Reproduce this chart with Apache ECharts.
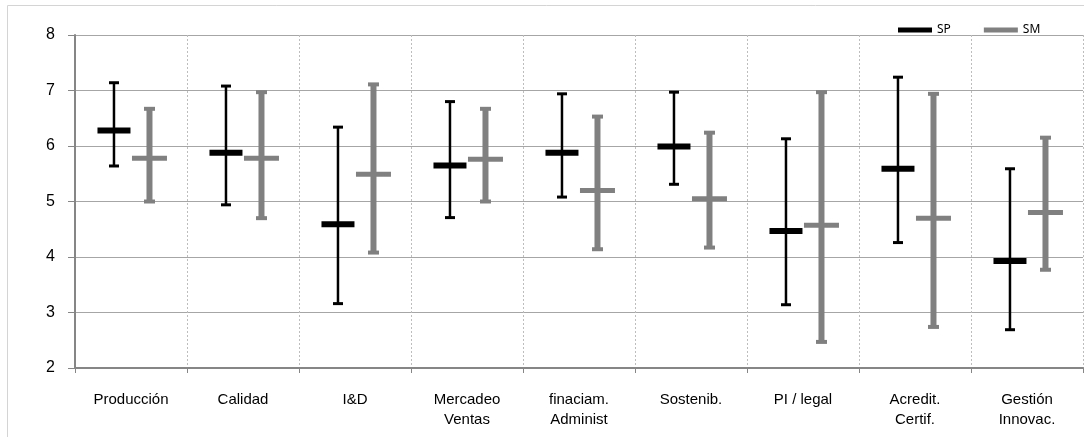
<!DOCTYPE html>
<html>
<head>
<meta charset="utf-8">
<script src="https://cdn.jsdelivr.net/npm/echarts@6/dist/echarts.min.js"></script>
<style>
  html, body { margin: 0; padding: 0; background: #fff; }
  #chart { width: 1084px; height: 437px; }
</style>
</head>
<body>
<div id="chart"></div>
<script>
const categories = ['Producción', 'Calidad', 'I&D', 'Mercadeo\nVentas', 'finaciam.\nAdminist', 'Sostenib.', 'PI / legal', 'Acredit.\nCertif.', 'Gestión\nInnovac.']

// SP: media y extremos
const spMean = [6.28, 5.88, 4.59, 5.65, 5.88, 5.99, 4.47, 5.59, 3.93]
const spHigh = [7.14, 7.08, 6.34, 6.80, 6.94, 6.97, 6.13, 7.24, 5.59]
const spLow = [5.64, 4.94, 3.16, 4.71, 5.08, 5.31, 3.14, 4.26, 2.69]

// SM: media y extremos
const smMean = [5.78, 5.78, 5.49, 5.76, 5.20, 5.05, 4.57, 4.70, 4.80]
const smHigh = [6.67, 6.97, 7.11, 6.67, 6.53, 6.24, 6.97, 6.94, 6.15]
const smLow = [5.00, 4.70, 4.08, 5.00, 4.14, 4.17, 2.47, 2.74, 3.77]

const yTicks = [2, 3, 4, 5, 6, 7, 8]

const toRows = (low, mean, high) => categories.map((c, i) => [i, low[i], mean[i], high[i]])

// dibuja barra de error con marca de la media
const makeRender = (cfg) => (params, api) => {
  const idx = api.value(0)
  const catW = api.size([1, 0])[0]
  const x = api.coord([idx, 0])[0] + catW * cfg.offset
  const yLow = api.coord([idx, api.value(1)])[1]
  const yMean = api.coord([idx, api.value(2)])[1]
  const yHigh = api.coord([idx, api.value(3)])[1]
  const style = { fill: cfg.color }
  return {
    type: 'group',
    children: [
      {
        type: 'rect',
        shape: { x: x - cfg.lineW / 2, y: yHigh, width: cfg.lineW, height: yLow - yHigh },
        style,
      },
      {
        type: 'rect',
        shape: { x: x - cfg.capW / 2, y: yHigh - cfg.capH / 2, width: cfg.capW, height: cfg.capH },
        style,
      },
      {
        type: 'rect',
        shape: { x: x - cfg.capW / 2, y: yLow - cfg.capH / 2, width: cfg.capW, height: cfg.capH },
        style,
      },
      {
        type: 'rect',
        shape: { x: x - cfg.meanW / 2, y: yMean - cfg.meanH / 2, width: cfg.meanW, height: cfg.meanH },
        style,
      },
    ],
  }
}

const chart = echarts.init(document.getElementById('chart'), null, { renderer: 'canvas' })

const option = {
  animation: false,
  graphic: [
    {
      type: 'rect',
      z: -10,
      shape: { x: 7.5, y: 5.5, width: 1100, height: 440 },
      style: { fill: 'none', stroke: '#d4d4d4', lineWidth: 1 },
    },
  ],
  legend: {
    left: 893,
    top: 19,
    itemWidth: 34,
    itemHeight: 5,
    itemGap: 33,
    icon: 'rect',
    textStyle: { fontFamily: 'Noto Sans', fontSize: 12, color: '#000' },
    data: [
      { name: 'SP', itemStyle: { color: '#000' } },
      { name: 'SM', itemStyle: { color: '#808080' } },
    ],
  },
  grid: { left: 75, right: 1, top: 35, bottom: 69, containLabel: false },
  xAxis: {
    type: 'category',
    data: categories,
    boundaryGap: true,
    axisLine: { show: true, lineStyle: { color: '#868686', width: 2 } },
    axisTick: { show: true, length: 5, lineStyle: { color: '#868686' } },
    splitLine: { show: true, lineStyle: { color: '#bdbdbd', type: [2, 2], width: 1 } },
    axisLabel: {
      interval: 0,
      margin: 22,
      fontFamily: 'Liberation Sans',
      fontSize: 15,
      lineHeight: 20,
      color: '#000',
    },
  },
  yAxis: {
    type: 'value',
    min: yTicks[0],
    max: yTicks[yTicks.length - 1],
    interval: 1,
    axisLine: { show: true, lineStyle: { color: '#868686', width: 2 } },
    axisTick: { show: true, length: 7, lineStyle: { color: '#868686' } },
    splitLine: { show: true, lineStyle: { color: '#a6a6a6', width: 1 } },
    axisLabel: {
      margin: 20,
      fontFamily: 'Liberation Sans',
      fontSize: 16,
      color: '#000',
    },
  },
  series: [
    {
      name: 'SP',
      type: 'custom',
      itemStyle: { color: '#000' },
      renderItem: makeRender({ offset: -0.152, color: '#000', lineW: 2.5, capW: 10, capH: 3, meanW: 33, meanH: 6 }),
      encode: { x: 0, y: [1, 2, 3] },
      data: toRows(spLow, spMean, spHigh),
    },
    {
      name: 'SM',
      type: 'custom',
      itemStyle: { color: '#808080' },
      renderItem: makeRender({ offset: 0.165, color: '#808080', lineW: 6, capW: 11, capH: 4, meanW: 35, meanH: 5 }),
      encode: { x: 0, y: [1, 2, 3] },
      data: toRows(smLow, smMean, smHigh),
    },
  ],
}

chart.setOption(option)
</script>
</body>
</html>
